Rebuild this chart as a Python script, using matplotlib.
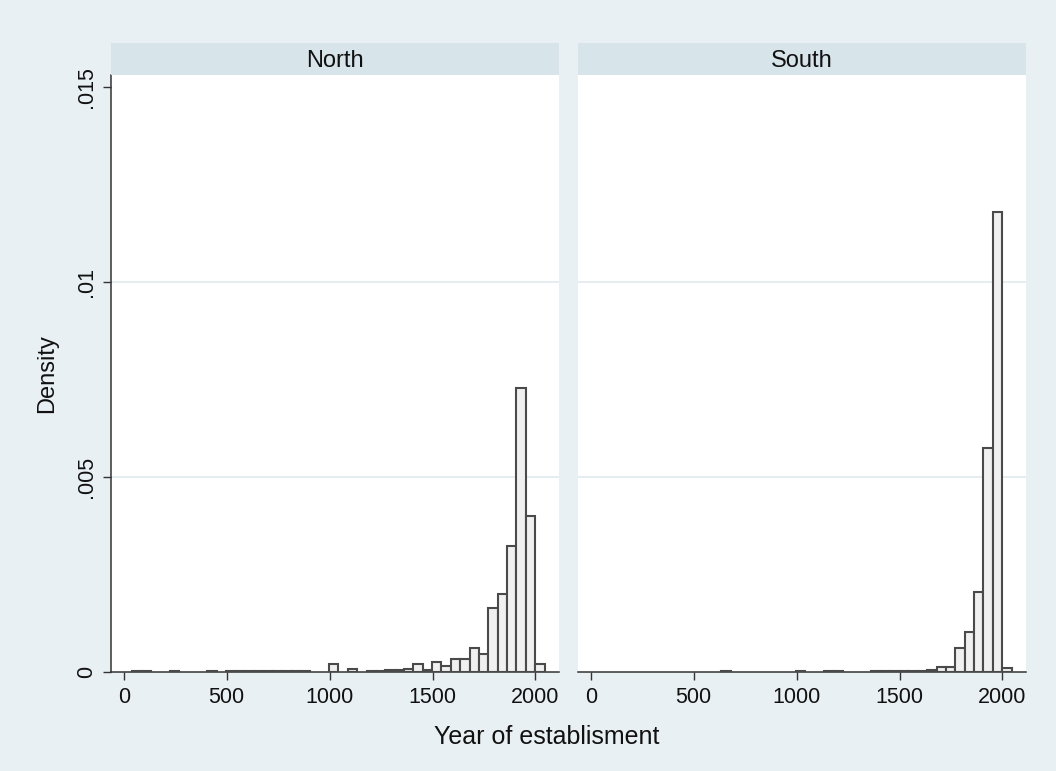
import numpy as np
import matplotlib
matplotlib.use("Agg")
import matplotlib.pyplot as plt

plt.rcParams['font.family'] = ['Liberation Sans', 'DejaVu Sans']

# histogram bins (years)
bin_start = 42
bin_width = 45.5
n_bins = 44

# density per bin
north_density = [
    0.00003, 0.00003, 0, 0, 0.00003, 0, 0, 0, 0.00003, 0,
    0.00002, 0.00002, 0.00002, 0.00002, 0.00002, 0.00002, 0.00002, 0.00002, 0.00003, 0,
    0, 0.0002, 0, 0.00007, 0, 0.00002, 0.00003, 0.00005, 0.00004, 0.00007,
    0.0002, 0.00004, 0.00025, 0.00015, 0.00033, 0.00033, 0.00062, 0.00046, 0.00163, 0.0020,
    0.00323, 0.00727, 0.00401, 0.0002,
]
south_density = [
    0, 0, 0, 0, 0, 0, 0, 0, 0, 0,
    0, 0, 0, 0.00003, 0, 0, 0, 0, 0, 0,
    0, 0.00003, 0, 0, 0.00003, 0.00003, 0, 0, 0, 0.00002,
    0.00002, 0.00002, 0.00002, 0.00002, 0.00003, 0.00006, 0.00012, 0.00012, 0.00061, 0.00102,
    0.00204, 0.00575, 0.0118, 0.0001,
]
panels = ["North", "South"]
xticks = [0, 500, 1000, 1500, 2000]
yticks = [0, 0.005, 0.01, 0.015]
ytick_labels = ["0", ".005", ".01", ".015"]

bg = '#E9F0F3'
strip_col = '#D7E4EA'
grid_col = '#E4ECEF'
axis_col = '#333333'
txt_col = '#111111'

W, H = 1056, 771
fig = plt.figure(figsize=(W / 100, H / 100), dpi=100)
fig.patch.set_facecolor(bg)

lefts = np.array([bin_start + bin_width * i for i in range(n_bins)])
ax_lefts = [111, 578]
ax_w = 447.5
ax_top, ax_bot = 75, 672
strip_top = 43

for k, (name, dens) in enumerate(zip(panels, [north_density, south_density])):
    x0 = ax_lefts[k]
    ax = fig.add_axes([x0 / W, 1 - ax_bot / H, ax_w / W, (ax_bot - ax_top) / H])
    ax.set_facecolor('white')
    dens = np.array(dens)
    m = dens > 0
    ax.bar(lefts[m], dens[m], width=bin_width, align='edge',
           facecolor='#F0F0F0', edgecolor='#4A4A4A', linewidth=1.5, zorder=3)
    ax.set_xlim(-62, 2112)
    ax.set_ylim(0, 0.0153)
    for yv in [0.005, 0.01]:
        ax.axhline(yv, color=grid_col, lw=1.3, zorder=1)
    ax.set_xticks(xticks)
    ax.set_xticklabels([str(v) for v in xticks])
    ax.tick_params(axis='x', direction='out', length=6, width=1, color=axis_col,
                   labelsize=15.5, pad=5, labelcolor=txt_col)
    for s in ['top', 'right']:
        ax.spines[s].set_visible(False)
    ax.spines['bottom'].set_color(axis_col)
    ax.spines['bottom'].set_linewidth(1.1)
    if k == 0:
        ax.set_yticks(yticks)
        ax.set_yticklabels(ytick_labels, rotation=90, va='center')
        ax.tick_params(axis='y', direction='out', length=6, width=1, color=axis_col,
                       labelsize=15.5, pad=4, labelcolor=txt_col)
        ax.spines['left'].set_color(axis_col)
        ax.spines['left'].set_linewidth(1.1)
        ax.set_ylabel("Density", fontsize=17, labelpad=13, color=txt_col)
    else:
        ax.set_yticks([])
        ax.spines['left'].set_visible(False)

    sax = fig.add_axes([x0 / W, 1 - ax_top / H, ax_w / W, (ax_top - strip_top) / H])
    sax.set_facecolor(strip_col)
    sax.set_xticks([])
    sax.set_yticks([])
    for s in sax.spines.values():
        s.set_visible(False)
    sax.text(0.5, 0.45, name, ha='center', va='center', fontsize=17, color=txt_col,
             transform=sax.transAxes)

fig.text(547 / W, 1 - 737 / H, "Year of establisment", ha='center', va='center',
         fontsize=18, color=txt_col)

fig.savefig("out.png", dpi=100, facecolor=bg)
